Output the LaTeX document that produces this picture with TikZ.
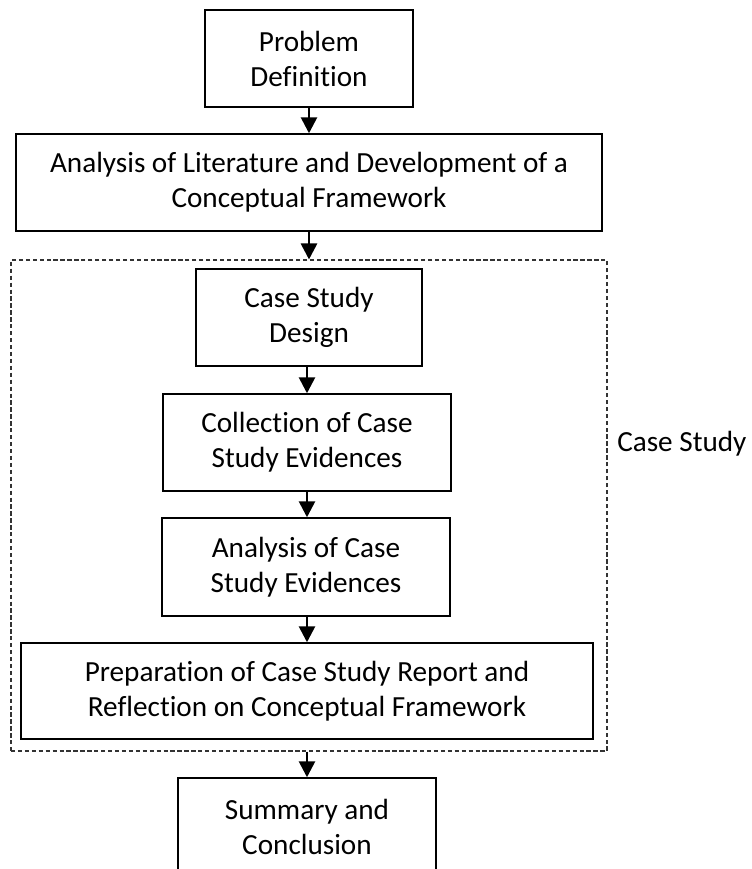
\documentclass[tikz,border=0pt]{standalone}
\usepackage{fontspec}
\setmainfont{Carlito}[Ligatures=NoCommon]
\usetikzlibrary{arrows.meta}
\begin{document}
\begin{tikzpicture}[x=0.75pt,y=-0.75pt,
  stepbox/.style={draw=black, line width=1.1pt, rectangle, align=center,
    inner sep=0pt, font=\fontsize{21.9pt}{26.3pt}\selectfont},
  flow/.style={line width=2pt, -{Triangle[length=12pt,width=12pt]}},
  groupframe/.style={draw=black!80, line width=0.8pt, dash pattern=on 3.2pt off 2pt,
    rectangle, inner sep=0pt}]
\clip (0,0) rectangle (751,869);
\fill[white] (0,0) rectangle (751,869);

% main process steps
\node[stepbox, minimum width=208*0.75pt, minimum height=97*0.75pt] (b1) at (309,58.5) {Problem\\Definition};
\node[stepbox, minimum width=586*0.75pt, minimum height=97*0.75pt] (b2) at (309,182.5) {Analysis of Literature and Development of a\\Conceptual Framework};

% case study group
\node[groupframe, minimum width=596*0.75pt, minimum height=491*0.75pt] (frame) at (309,505.5) {};
\node[stepbox, minimum width=226*0.75pt, minimum height=97*0.75pt] (b3) at (309,317.5) {Case Study\\Design};
\node[stepbox, minimum width=288*0.75pt, minimum height=97*0.75pt] (b4) at (307,442.5) {Collection of Case\\Study Evidences};
\node[stepbox, minimum width=288*0.75pt, minimum height=98*0.75pt] (b5) at (306,567) {Analysis of Case\\Study Evidences};
\node[stepbox, minimum width=572*0.75pt, minimum height=96*0.75pt] (b6) at (307,691) {Preparation of Case Study Report and\\Reflection on Conceptual Framework};
\node[anchor=west, inner sep=0pt, font=\fontsize{21.9pt}{26.3pt}\selectfont] (lbl) at (617,444) {Case Study};

% closing step
\node[stepbox, minimum width=258*0.75pt, minimum height=97*0.75pt] (b7) at (307,826.5) {Summary and\\Conclusion};

% connectors
\draw[flow] (b1.south) -- (b2.north);
\draw[flow] (b2.south) -- (frame.north);
\draw[flow] (b3.south -| b4.north) -- (b4.north);
\draw[flow] (b4.south) -- (b4.south |- b5.north);
\draw[flow] (b5.south -| b6.north) -- (b6.north);
\draw[flow] (frame.south -| b7.north) -- (b7.north);
\end{tikzpicture}
\end{document}
